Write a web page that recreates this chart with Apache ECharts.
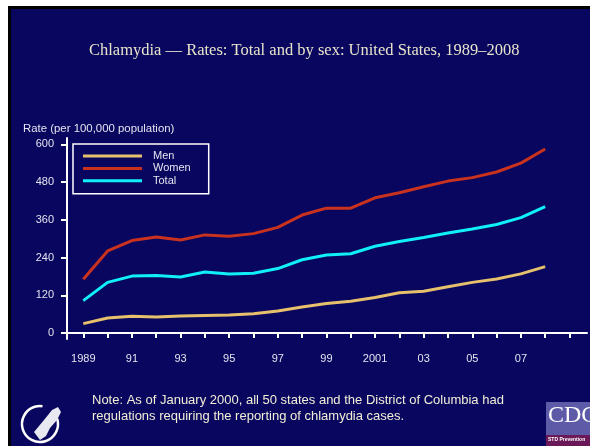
<!DOCTYPE html>
<html>
<head>
<meta charset="utf-8">
<script src="https://cdn.jsdelivr.net/npm/echarts@6/dist/echarts.min.js"></script>
<style>
  html, body { margin: 0; padding: 0; background: #fff; }
  #chart { width: 590px; height: 446px; }
</style>
</head>
<body>
<div id="chart"></div>
<script>
// data
var years = [1989, 1990, 1991, 1992, 1993, 1994, 1995, 1996, 1997, 1998,
  1999, 2000, 2001, 2002, 2003, 2004, 2005, 2006, 2007, 2008]
var men = [30, 48, 53, 51, 54, 56, 57, 61, 70, 83, 94, 101, 113, 128, 133, 147, 161, 172, 188, 211]
var women = [171, 261, 294, 305, 296, 312, 308, 316, 336, 375, 397, 397, 430, 446, 465, 483, 494, 512, 540, 585]
var total = [103, 161, 181, 183, 178, 194, 188, 190, 205, 233, 248, 252, 276, 291, 304, 318, 331, 345, 367, 402]
var yTicks = [0, 120, 240, 360, 480, 600]
var xTicks = [1989, 1990, 1991, 1992, 1993, 1994, 1995, 1996, 1997, 1998, 1999,
  2000, 2001, 2002, 2003, 2004, 2005, 2006, 2007, 2008, 2009]
var xLabels = [1989, 1991, 1993, 1995, 1997, 1999, 2001, 2003, 2005, 2007]

var pairs = function (vals) {
  return years.map(function (y, i) { return [y, vals[i]] })
}

var txt = '#e4e4f0'
var chart = echarts.init(document.getElementById('chart'))
chart.setOption({
  backgroundColor: '#fff',
  animation: false,
  graphic: [
    { type: 'rect', z: -10, shape: { x: 8, y: 6, width: 582, height: 440 }, style: { fill: '#000' } },
    { type: 'rect', z: -9, shape: { x: 11, y: 9, width: 579, height: 437 }, style: { fill: '#08065e' } },
    {
      type: 'text', left: 23, top: 123,
      style: { text: 'Rate (per 100,000 population)', fill: txt, font: '11.4px "Liberation Sans", Arial' }
    },
    // HHS logo (rough)
    {
      type: 'arc', shape: { cx: 40, cy: 424, r: 18, startAngle: -0.3, endAngle: 4.85, clockwise: true },
      style: { stroke: '#fff', lineWidth: 2.5, fill: 'none' }
    },
    {
      type: 'polygon',
      shape: { points: [[34, 432], [44, 420], [52, 410], [58, 407], [61, 412], [57, 420], [50, 428], [46, 436], [40, 440]] },
      style: { fill: '#e8e8f0' }
    },
    // CDC logo
    { type: 'rect', shape: { x: 546, y: 402, width: 44, height: 33 }, style: { fill: '#5d5aa8' } },
    { type: 'rect', shape: { x: 546, y: 435, width: 44, height: 11 }, style: { fill: '#6a1858' } },
    {
      type: 'text', left: 548, top: 404,
      style: { text: 'CDC', fill: '#fff', font: '24px "Liberation Serif"' }
    },
    {
      type: 'text', left: 548, top: 437,
      style: { text: 'STD Prevention', fill: '#fff', font: 'bold 5px "Liberation Sans"' }
    }
  ],
  title: [
    {
      text: 'Chlamydia — Rates: Total and by sex: United States, 1989–2008',
      left: 89, top: 42, padding: 0,
      textStyle: { fontFamily: 'Liberation Serif', fontSize: 16.5, fontWeight: 'normal', color: '#e8e4cc' }
    },
    {
      text: 'Note: As of January 2000, all 50 states and the District of Columbia had\nregulations requiring the reporting of chlamydia cases.',
      left: 92, top: 392, padding: 0,
      textStyle: { fontFamily: 'Liberation Sans', fontSize: 13, fontWeight: 'normal', color: '#f2eed6', lineHeight: 16.6 }
    }
  ],
  legend: {
    orient: 'vertical',
    left: 73, top: 144,
    padding: [6, 18, 7, 10],
    borderColor: '#fff',
    borderWidth: 1.5,
    itemWidth: 59,
    itemHeight: 3,
    itemGap: 0.4,
    icon: 'rect',
    textStyle: { color: txt, fontFamily: 'Liberation Sans', fontSize: 11, lineHeight: 12, padding: [0, 0, 0, 6] },
    data: ['Men', 'Women', 'Total']
  },
  grid: { left: 67, right: 3, top: 138, bottom: 107, containLabel: false },
  xAxis: {
    type: 'value',
    min: 1988.33,
    max: 2009.72,
    splitLine: { show: false },
    axisLine: { lineStyle: { color: '#fff', width: 2 } },
    axisTick: { length: 5, lineStyle: { color: '#fff', width: 2 }, customValues: xTicks },
    axisLabel: {
      customValues: xLabels,
      margin: 14,
      color: txt,
      fontFamily: 'Liberation Sans',
      fontSize: 11,
      formatter: function (v) {
        return (v === 1989 || v === 2001) ? String(v) : String(v).slice(2)
      }
    }
  },
  yAxis: {
    type: 'value',
    min: -19,
    max: 620,
    splitLine: { show: false },
    axisLine: { show: true, lineStyle: { color: '#fff', width: 2 } },
    axisTick: { show: true, length: 6, lineStyle: { color: '#fff', width: 2 }, customValues: yTicks },
    axisLabel: {
      customValues: yTicks,
      margin: 13,
      color: txt,
      fontFamily: 'Liberation Sans',
      fontSize: 11
    }
  },
  series: [
    { name: 'Men', type: 'line', data: pairs(men), symbol: 'none', color: '#e6c06c', lineStyle: { width: 3 } },
    { name: 'Women', type: 'line', data: pairs(women), symbol: 'none', color: '#c8321e', lineStyle: { width: 3 } },
    { name: 'Total', type: 'line', data: pairs(total), symbol: 'none', color: '#10f0f8', lineStyle: { width: 3 } }
  ]
})
</script>
</body>
</html>
